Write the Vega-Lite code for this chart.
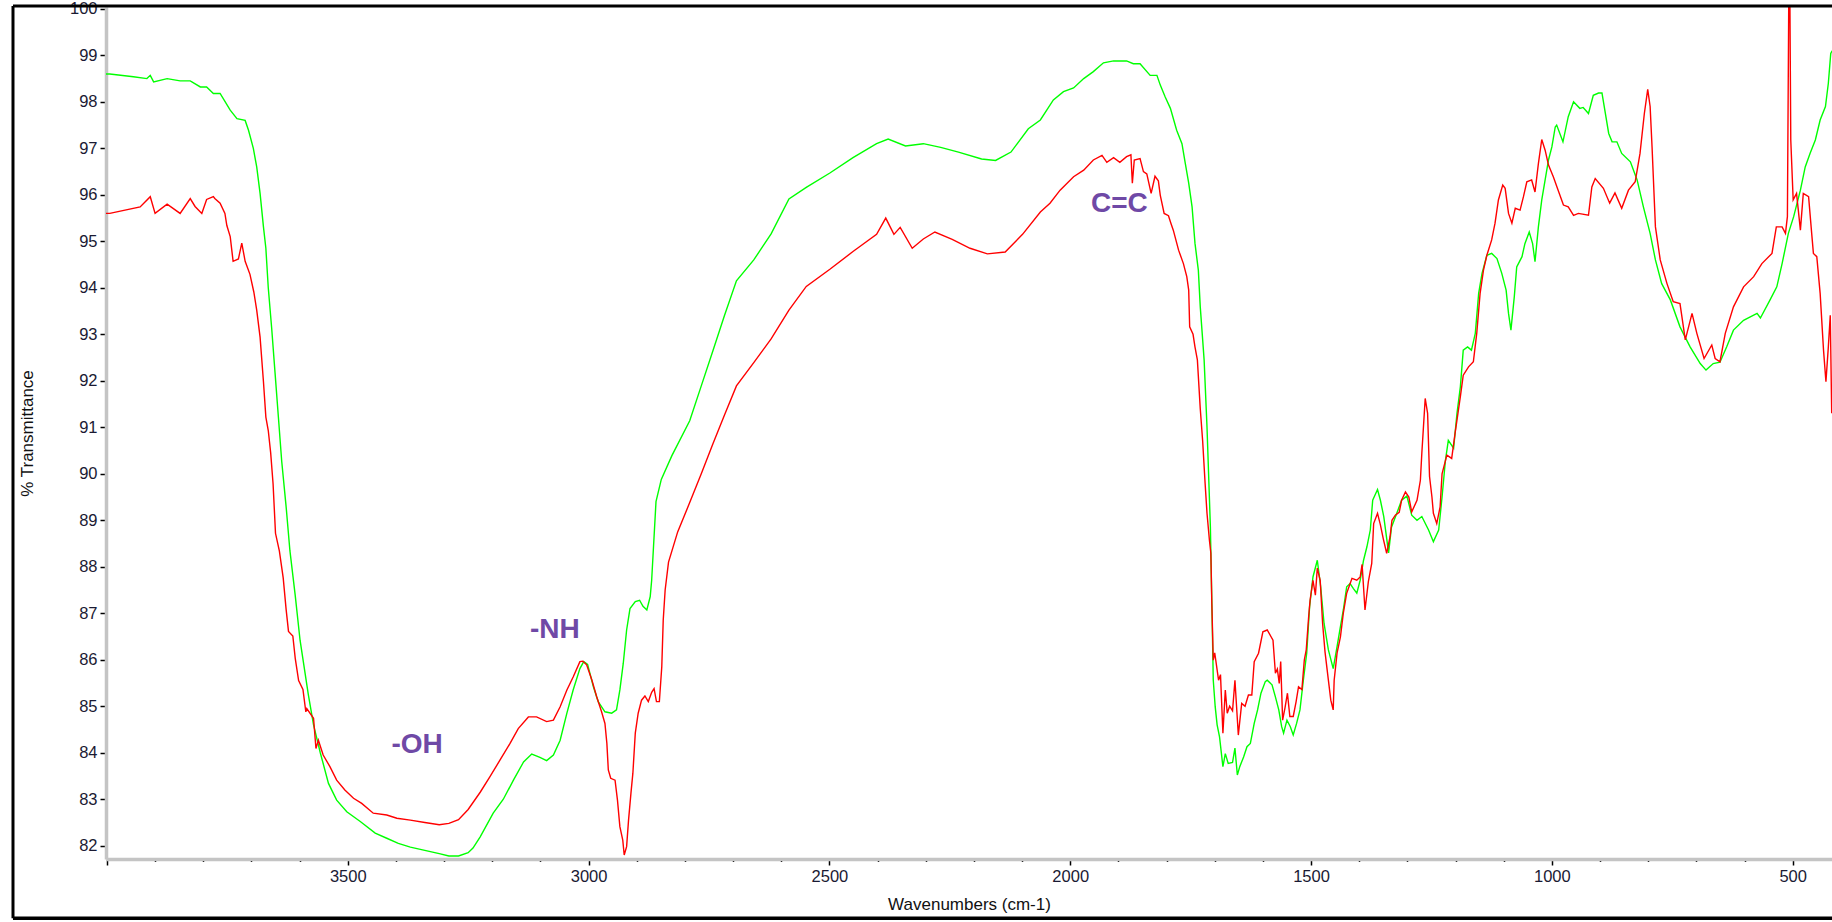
{
"$schema": "https://vega.github.io/schema/vega-lite/v6.json",
"width": 1726, "height": 852,
"autosize": {"type": "none"},
"padding": {"left": 106, "top": 7, "right": 0, "bottom": 63},
"background": "white",
"config": {"view": {"stroke": null}, "font": "Liberation Sans"},
"datasets": {
"green": [
{"w":4002,"t":98.6},{"w":3994,"t":98.6},{"w":3945,"t":98.54},{"w":3917,"t":98.5},{"w":3910,"t":98.57},{"w":3903,"t":98.43},{"w":3875,"t":98.5},{"w":3848,"t":98.45},{"w":3827,"t":98.45},{"w":3806,"t":98.32},{"w":3793,"t":98.32},{"w":3779,"t":98.18},{"w":3765,"t":98.18},{"w":3744,"t":97.82},{"w":3730,"t":97.64},{"w":3713,"t":97.6},{"w":3706,"t":97.39},{"w":3696,"t":97.0},{"w":3689,"t":96.6},{"w":3682,"t":96.03},{"w":3675,"t":95.31},{"w":3670,"t":94.85},{"w":3665,"t":94.0},{"w":3658,"t":93.14},{"w":3651,"t":92.18},{"w":3644,"t":91.22},{"w":3637,"t":90.26},{"w":3628,"t":89.3},{"w":3620,"t":88.34},{"w":3609,"t":87.38},{"w":3599,"t":86.42},{"w":3582,"t":85.26},{"w":3571,"t":84.6},{"w":3557,"t":84.0},{"w":3540,"t":83.34},{"w":3523,"t":82.98},{"w":3502,"t":82.73},{"w":3474,"t":82.52},{"w":3443,"t":82.27},{"w":3419,"t":82.16},{"w":3395,"t":82.05},{"w":3370,"t":81.97},{"w":3340,"t":81.9},{"w":3310,"t":81.83},{"w":3290,"t":81.78},{"w":3270,"t":81.78},{"w":3250,"t":81.85},{"w":3240,"t":81.95},{"w":3225,"t":82.19},{"w":3198,"t":82.7},{"w":3177,"t":83.0},{"w":3156,"t":83.41},{"w":3135,"t":83.8},{"w":3118,"t":83.97},{"w":3101,"t":83.9},{"w":3087,"t":83.83},{"w":3073,"t":83.95},{"w":3059,"t":84.27},{"w":3045,"t":84.85},{"w":3032,"t":85.35},{"w":3018,"t":85.81},{"w":3010,"t":85.96},{"w":3002,"t":85.9},{"w":2990,"t":85.42},{"w":2980,"t":85.1},{"w":2966,"t":84.88},{"w":2952,"t":84.85},{"w":2942,"t":84.92},{"w":2935,"t":85.35},{"w":2928,"t":85.92},{"w":2921,"t":86.64},{"w":2914,"t":87.1},{"w":2903,"t":87.25},{"w":2894,"t":87.28},{"w":2887,"t":87.15},{"w":2879,"t":87.07},{"w":2872,"t":87.36},{"w":2869,"t":87.71},{"w":2860,"t":89.4},{"w":2849,"t":89.88},{"w":2827,"t":90.39},{"w":2790,"t":91.14},{"w":2766,"t":91.89},{"w":2742,"t":92.64},{"w":2718,"t":93.4},{"w":2693,"t":94.15},{"w":2657,"t":94.6},{"w":2621,"t":95.16},{"w":2584,"t":95.91},{"w":2548,"t":96.16},{"w":2499,"t":96.47},{"w":2451,"t":96.8},{"w":2402,"t":97.1},{"w":2378,"t":97.2},{"w":2342,"t":97.05},{"w":2305,"t":97.1},{"w":2269,"t":97.02},{"w":2232,"t":96.92},{"w":2184,"t":96.77},{"w":2155,"t":96.74},{"w":2123,"t":96.92},{"w":2087,"t":97.42},{"w":2062,"t":97.61},{"w":2035,"t":98.04},{"w":2014,"t":98.22},{"w":1993,"t":98.3},{"w":1972,"t":98.5},{"w":1952,"t":98.65},{"w":1931,"t":98.84},{"w":1910,"t":98.88},{"w":1883,"t":98.88},{"w":1869,"t":98.82},{"w":1855,"t":98.82},{"w":1834,"t":98.57},{"w":1820,"t":98.57},{"w":1813,"t":98.36},{"w":1803,"t":98.11},{"w":1792,"t":97.86},{"w":1779,"t":97.39},{"w":1768,"t":97.1},{"w":1761,"t":96.67},{"w":1754,"t":96.25},{"w":1747,"t":95.74},{"w":1741,"t":94.96},{"w":1734,"t":94.38},{"w":1730,"t":93.59},{"w":1725,"t":92.88},{"w":1722,"t":92.45},{"w":1716,"t":91.0},{"w":1709,"t":88.86},{"w":1705,"t":86.71},{"w":1703,"t":85.56},{"w":1699,"t":84.99},{"w":1695,"t":84.6},{"w":1690,"t":84.34},{"w":1683,"t":83.7},{"w":1678,"t":83.98},{"w":1672,"t":83.77},{"w":1663,"t":83.79},{"w":1658,"t":84.1},{"w":1653,"t":83.52},{"w":1648,"t":83.7},{"w":1640,"t":83.91},{"w":1633,"t":84.13},{"w":1626,"t":84.2},{"w":1618,"t":84.63},{"w":1611,"t":84.92},{"w":1604,"t":85.28},{"w":1595,"t":85.53},{"w":1591,"t":85.56},{"w":1581,"t":85.46},{"w":1574,"t":85.2},{"w":1567,"t":84.92},{"w":1561,"t":84.56},{"w":1557,"t":84.42},{"w":1550,"t":84.7},{"w":1543,"t":84.56},{"w":1537,"t":84.38},{"w":1530,"t":84.63},{"w":1523,"t":84.92},{"w":1516,"t":85.56},{"w":1509,"t":86.14},{"w":1503,"t":87.14},{"w":1496,"t":87.78},{"w":1487,"t":88.14},{"w":1480,"t":87.57},{"w":1473,"t":86.78},{"w":1464,"t":86.21},{"w":1454,"t":85.81},{"w":1446,"t":86.28},{"w":1439,"t":86.71},{"w":1433,"t":87.07},{"w":1426,"t":87.57},{"w":1419,"t":87.64},{"w":1412,"t":87.53},{"w":1405,"t":87.43},{"w":1398,"t":87.71},{"w":1391,"t":88.14},{"w":1384,"t":88.43},{"w":1377,"t":88.79},{"w":1372,"t":89.43},{"w":1362,"t":89.66},{"w":1356,"t":89.43},{"w":1349,"t":89.08},{"w":1339,"t":88.3},{"w":1333,"t":88.85},{"w":1322,"t":89.15},{"w":1312,"t":89.43},{"w":1301,"t":89.52},{"w":1291,"t":89.11},{"w":1280,"t":89.0},{"w":1270,"t":89.08},{"w":1256,"t":88.79},{"w":1246,"t":88.54},{"w":1235,"t":88.79},{"w":1228,"t":89.5},{"w":1221,"t":90.29},{"w":1215,"t":90.72},{"w":1204,"t":90.55},{"w":1197,"t":91.3},{"w":1190,"t":91.87},{"w":1184,"t":92.66},{"w":1175,"t":92.73},{"w":1167,"t":92.66},{"w":1159,"t":93.02},{"w":1152,"t":93.88},{"w":1145,"t":94.31},{"w":1135,"t":94.7},{"w":1125,"t":94.74},{"w":1114,"t":94.63},{"w":1104,"t":94.31},{"w":1095,"t":93.95},{"w":1090,"t":93.45},{"w":1085,"t":93.09},{"w":1078,"t":93.81},{"w":1073,"t":94.45},{"w":1062,"t":94.67},{"w":1056,"t":94.95},{"w":1047,"t":95.2},{"w":1040,"t":94.95},{"w":1035,"t":94.56},{"w":1028,"t":95.31},{"w":1021,"t":95.89},{"w":1014,"t":96.32},{"w":1007,"t":96.75},{"w":1000,"t":97.03},{"w":993,"t":97.46},{"w":990,"t":97.5},{"w":977,"t":97.14},{"w":966,"t":97.68},{"w":955,"t":98.0},{"w":942,"t":97.86},{"w":935,"t":97.88},{"w":924,"t":97.75},{"w":914,"t":98.14},{"w":903,"t":98.19},{"w":896,"t":98.19},{"w":882,"t":97.32},{"w":875,"t":97.14},{"w":865,"t":97.14},{"w":855,"t":96.89},{"w":837,"t":96.71},{"w":823,"t":96.32},{"w":810,"t":95.74},{"w":796,"t":95.17},{"w":785,"t":94.6},{"w":772,"t":94.09},{"w":754,"t":93.74},{"w":734,"t":93.16},{"w":713,"t":92.73},{"w":692,"t":92.37},{"w":680,"t":92.23},{"w":665,"t":92.37},{"w":651,"t":92.4},{"w":637,"t":92.73},{"w":623,"t":93.09},{"w":602,"t":93.3},{"w":574,"t":93.45},{"w":567,"t":93.35},{"w":547,"t":93.74},{"w":533,"t":94.02},{"w":522,"t":94.52},{"w":509,"t":95.17},{"w":498,"t":95.53},{"w":484,"t":96.1},{"w":474,"t":96.6},{"w":464,"t":96.89},{"w":453,"t":97.18},{"w":443,"t":97.61},{"w":432,"t":97.9},{"w":426,"t":98.4},{"w":421,"t":99.04},{"w":418,"t":99.1}
],
"red": [
{"w":4002,"t":95.6},{"w":3994,"t":95.6},{"w":3931,"t":95.74},{"w":3910,"t":95.96},{"w":3900,"t":95.6},{"w":3875,"t":95.8},{"w":3848,"t":95.6},{"w":3827,"t":95.92},{"w":3817,"t":95.75},{"w":3803,"t":95.6},{"w":3793,"t":95.9},{"w":3779,"t":95.96},{"w":3776,"t":95.92},{"w":3765,"t":95.82},{"w":3755,"t":95.6},{"w":3751,"t":95.34},{"w":3744,"t":95.1},{"w":3738,"t":94.57},{"w":3727,"t":94.62},{"w":3720,"t":94.96},{"w":3713,"t":94.57},{"w":3703,"t":94.29},{"w":3695,"t":93.91},{"w":3689,"t":93.52},{"w":3682,"t":92.94},{"w":3675,"t":91.98},{"w":3670,"t":91.22},{"w":3665,"t":90.93},{"w":3660,"t":90.45},{"w":3655,"t":89.78},{"w":3650,"t":88.72},{"w":3642,"t":88.34},{"w":3634,"t":87.76},{"w":3628,"t":87.09},{"w":3623,"t":86.61},{"w":3614,"t":86.51},{"w":3609,"t":86.03},{"w":3602,"t":85.55},{"w":3593,"t":85.36},{"w":3587,"t":84.88},{"w":3585,"t":84.95},{"w":3571,"t":84.74},{"w":3566,"t":84.09},{"w":3561,"t":84.27},{"w":3551,"t":83.95},{"w":3537,"t":83.7},{"w":3523,"t":83.41},{"w":3506,"t":83.2},{"w":3488,"t":83.02},{"w":3471,"t":82.91},{"w":3447,"t":82.7},{"w":3419,"t":82.66},{"w":3398,"t":82.59},{"w":3370,"t":82.55},{"w":3340,"t":82.5},{"w":3310,"t":82.45},{"w":3290,"t":82.48},{"w":3270,"t":82.56},{"w":3250,"t":82.78},{"w":3225,"t":83.15},{"w":3205,"t":83.48},{"w":3184,"t":83.84},{"w":3163,"t":84.2},{"w":3146,"t":84.52},{"w":3125,"t":84.77},{"w":3108,"t":84.77},{"w":3087,"t":84.67},{"w":3073,"t":84.7},{"w":3059,"t":84.99},{"w":3045,"t":85.35},{"w":3032,"t":85.63},{"w":3018,"t":85.96},{"w":3012,"t":85.97},{"w":3004,"t":85.89},{"w":2993,"t":85.56},{"w":2983,"t":85.2},{"w":2973,"t":84.88},{"w":2966,"t":84.63},{"w":2962,"t":84.2},{"w":2959,"t":83.63},{"w":2954,"t":83.45},{"w":2945,"t":83.41},{"w":2940,"t":82.98},{"w":2935,"t":82.41},{"w":2929,"t":82.12},{"w":2926,"t":81.8},{"w":2921,"t":81.98},{"w":2917,"t":82.55},{"w":2912,"t":83.13},{"w":2908,"t":83.56},{"w":2903,"t":84.42},{"w":2897,"t":84.85},{"w":2890,"t":85.13},{"w":2883,"t":85.22},{"w":2876,"t":85.1},{"w":2869,"t":85.3},{"w":2864,"t":85.38},{"w":2859,"t":85.1},{"w":2853,"t":85.1},{"w":2848,"t":85.85},{"w":2845,"t":86.85},{"w":2841,"t":87.5},{"w":2834,"t":88.1},{"w":2815,"t":88.75},{"w":2790,"t":89.38},{"w":2766,"t":90.0},{"w":2742,"t":90.64},{"w":2718,"t":91.26},{"w":2693,"t":91.89},{"w":2657,"t":92.39},{"w":2621,"t":92.9},{"w":2584,"t":93.52},{"w":2548,"t":94.03},{"w":2499,"t":94.4},{"w":2451,"t":94.78},{"w":2402,"t":95.15},{"w":2383,"t":95.5},{"w":2366,"t":95.15},{"w":2353,"t":95.3},{"w":2328,"t":94.85},{"w":2305,"t":95.05},{"w":2281,"t":95.2},{"w":2245,"t":95.04},{"w":2208,"t":94.85},{"w":2172,"t":94.73},{"w":2135,"t":94.77},{"w":2099,"t":95.15},{"w":2062,"t":95.63},{"w":2042,"t":95.82},{"w":2021,"t":96.1},{"w":1993,"t":96.39},{"w":1972,"t":96.53},{"w":1952,"t":96.75},{"w":1934,"t":96.85},{"w":1924,"t":96.7},{"w":1910,"t":96.8},{"w":1897,"t":96.7},{"w":1883,"t":96.82},{"w":1874,"t":96.86},{"w":1871,"t":96.25},{"w":1867,"t":96.75},{"w":1855,"t":96.78},{"w":1848,"t":96.5},{"w":1841,"t":96.45},{"w":1832,"t":96.03},{"w":1824,"t":96.4},{"w":1817,"t":96.3},{"w":1813,"t":95.99},{"w":1805,"t":95.6},{"w":1796,"t":95.55},{"w":1791,"t":95.39},{"w":1786,"t":95.24},{"w":1775,"t":94.81},{"w":1765,"t":94.52},{"w":1758,"t":94.24},{"w":1754,"t":93.95},{"w":1752,"t":93.16},{"w":1745,"t":93.0},{"w":1741,"t":92.73},{"w":1736,"t":92.45},{"w":1730,"t":91.4},{"w":1725,"t":90.7},{"w":1720,"t":89.8},{"w":1716,"t":89.15},{"w":1711,"t":88.57},{"w":1708,"t":88.29},{"w":1706,"t":87.21},{"w":1703,"t":85.99},{"w":1700,"t":86.15},{"w":1692,"t":85.56},{"w":1688,"t":85.68},{"w":1683,"t":84.42},{"w":1678,"t":85.35},{"w":1674,"t":84.85},{"w":1669,"t":85.0},{"w":1663,"t":84.9},{"w":1658,"t":85.56},{"w":1651,"t":84.38},{"w":1644,"t":85.06},{"w":1637,"t":85.0},{"w":1630,"t":85.24},{"w":1623,"t":85.24},{"w":1618,"t":85.96},{"w":1609,"t":86.14},{"w":1600,"t":86.6},{"w":1591,"t":86.64},{"w":1579,"t":86.42},{"w":1574,"t":85.71},{"w":1570,"t":85.8},{"w":1566,"t":85.49},{"w":1563,"t":85.96},{"w":1559,"t":84.7},{"w":1554,"t":84.97},{"w":1549,"t":85.28},{"w":1544,"t":84.78},{"w":1537,"t":84.78},{"w":1531,"t":85.1},{"w":1526,"t":85.42},{"w":1519,"t":85.36},{"w":1514,"t":85.99},{"w":1510,"t":86.21},{"w":1505,"t":86.92},{"w":1502,"t":87.28},{"w":1496,"t":87.71},{"w":1491,"t":87.39},{"w":1487,"t":87.97},{"w":1481,"t":87.71},{"w":1476,"t":86.78},{"w":1471,"t":86.17},{"w":1464,"t":85.56},{"w":1459,"t":85.13},{"w":1454,"t":84.92},{"w":1452,"t":85.56},{"w":1446,"t":86.14},{"w":1439,"t":86.49},{"w":1433,"t":87.0},{"w":1426,"t":87.43},{"w":1415,"t":87.75},{"w":1405,"t":87.71},{"w":1398,"t":87.78},{"w":1394,"t":88.05},{"w":1388,"t":87.07},{"w":1381,"t":87.68},{"w":1374,"t":88.07},{"w":1370,"t":88.93},{"w":1362,"t":89.15},{"w":1356,"t":88.9},{"w":1350,"t":88.6},{"w":1343,"t":88.29},{"w":1336,"t":88.64},{"w":1332,"t":89.0},{"w":1325,"t":89.11},{"w":1317,"t":89.17},{"w":1312,"t":89.43},{"w":1304,"t":89.61},{"w":1297,"t":89.5},{"w":1291,"t":89.18},{"w":1280,"t":89.43},{"w":1273,"t":89.86},{"w":1270,"t":90.44},{"w":1267,"t":90.94},{"w":1263,"t":91.62},{"w":1258,"t":91.3},{"w":1254,"t":89.94},{"w":1249,"t":89.5},{"w":1246,"t":89.15},{"w":1239,"t":88.93},{"w":1232,"t":89.29},{"w":1228,"t":90.0},{"w":1218,"t":90.4},{"w":1208,"t":90.33},{"w":1201,"t":90.87},{"w":1190,"t":91.66},{"w":1184,"t":92.12},{"w":1173,"t":92.3},{"w":1163,"t":92.41},{"w":1156,"t":93.02},{"w":1149,"t":93.88},{"w":1142,"t":94.38},{"w":1135,"t":94.7},{"w":1125,"t":95.03},{"w":1118,"t":95.39},{"w":1111,"t":95.89},{"w":1102,"t":96.21},{"w":1097,"t":96.14},{"w":1090,"t":95.6},{"w":1083,"t":95.39},{"w":1076,"t":95.71},{"w":1066,"t":95.67},{"w":1059,"t":95.96},{"w":1052,"t":96.28},{"w":1042,"t":96.32},{"w":1035,"t":96.06},{"w":1028,"t":96.67},{"w":1021,"t":97.19},{"w":1014,"t":96.96},{"w":1007,"t":96.64},{"w":997,"t":96.39},{"w":987,"t":96.1},{"w":976,"t":95.78},{"w":966,"t":95.74},{"w":955,"t":95.56},{"w":945,"t":95.6},{"w":924,"t":95.56},{"w":917,"t":96.17},{"w":910,"t":96.35},{"w":893,"t":96.14},{"w":880,"t":95.82},{"w":869,"t":96.04},{"w":855,"t":95.71},{"w":841,"t":96.1},{"w":827,"t":96.28},{"w":817,"t":96.89},{"w":808,"t":97.75},{"w":801,"t":98.27},{"w":796,"t":97.9},{"w":792,"t":97.03},{"w":785,"t":95.31},{"w":775,"t":94.6},{"w":761,"t":94.09},{"w":748,"t":93.7},{"w":734,"t":93.66},{"w":723,"t":92.88},{"w":709,"t":93.45},{"w":699,"t":93.02},{"w":684,"t":92.48},{"w":668,"t":92.77},{"w":661,"t":92.48},{"w":651,"t":92.41},{"w":640,"t":93.02},{"w":623,"t":93.59},{"w":602,"t":94.02},{"w":581,"t":94.24},{"w":564,"t":94.52},{"w":543,"t":94.74},{"w":534,"t":95.31},{"w":522,"t":95.31},{"w":515,"t":95.17},{"w":511,"t":95.53},{"w":508,"t":100.5},{"w":506,"t":100.5},{"w":504,"t":97.18},{"w":499,"t":95.89},{"w":492,"t":96.03},{"w":484,"t":95.24},{"w":478,"t":96.03},{"w":467,"t":95.96},{"w":460,"t":95.1},{"w":457,"t":94.74},{"w":450,"t":94.67},{"w":443,"t":93.88},{"w":436,"t":92.66},{"w":431,"t":91.98},{"w":426,"t":92.73},{"w":422,"t":93.41},{"w":419,"t":91.3}
],
"notes": [
{"label":"-OH","w":3356,"t":84.16},
{"label":"-NH","w":3070,"t":86.64},
{"label":"C=C","w":1898,"t":95.81}
]
},
"layer": [
{
"data": {"name": "green"},
"mark": {"type": "line", "color": "#00ff00", "strokeWidth": 1.4, "clip": true},
"encoding": {
"x": {"field": "w", "type": "quantitative", "title": "Wavenumbers (cm-1)",
"scale": {"domain": [418.4, 4001.9], "reverse": true, "nice": false, "zero": false},
"axis": {
"values": [4000,3900,3800,3700,3600,3500,3400,3300,3200,3100,3000,2900,2800,2700,2600,2500,2400,2300,2200,2100,2000,1900,1800,1700,1600,1500,1400,1300,1200,1100,1000,900,800,700,600,500],
"format": "d",
"labelExpr": "(datum.value % 500 === 0 && datum.value < 4000) ? datum.label : ''",
"grid": false,
"domainColor": "#c4c4c4", "domainWidth": 3.5,
"tickColor": "#000000", "tickWidth": 1.5,
"tickSize": {"condition": {"test": "datum.value % 500 === 0", "value": 6}, "value": 2.5},
"labelFontSize": 16.5, "labelColor": "#1a1a33", "labelPadding": 3, "labelOverlap": false, "labelFlush": false,
"titleFontSize": 17, "titleFontWeight": "normal", "titleColor": "#111111", "titleY": 45, "titleBaseline": "middle"
}},
"y": {"field": "t", "type": "quantitative", "title": "% Transmittance",
"scale": {"domain": [81.714, 100.04], "nice": false, "zero": false},
"axis": {
"values": [82,82.25,82.5,82.75,83,83.25,83.5,83.75,84,84.25,84.5,84.75,85,85.25,85.5,85.75,86,86.25,86.5,86.75,87,87.25,87.5,87.75,88,88.25,88.5,88.75,89,89.25,89.5,89.75,90,90.25,90.5,90.75,91,91.25,91.5,91.75,92,92.25,92.5,92.75,93,93.25,93.5,93.75,94,94.25,94.5,94.75,95,95.25,95.5,95.75,96,96.25,96.5,96.75,97,97.25,97.5,97.75,98,98.25,98.5,98.75,99,99.25,99.5,99.75,100],
"format": "d",
"labelExpr": "(datum.value % 1 === 0) ? datum.label : ''",
"grid": false,
"domainColor": "#c4c4c4", "domainWidth": 3.5,
"tickColor": "#000000", "tickWidth": 1.5,
"tickSize": {"condition": {"test": "datum.value % 1 === 0", "value": 6}, "value": 2.5},
"labelFontSize": 16.5, "labelColor": "#1a1a33", "labelPadding": 3, "labelOverlap": false, "labelFlush": false,
"titleFontSize": 17, "titleFontWeight": "normal", "titleColor": "#111111", "titlePadding": 33
}}
}
},
{
"data": {"name": "red"},
"mark": {"type": "line", "color": "#ff0000", "strokeWidth": 1.4, "clip": true},
"encoding": {
"x": {"field": "w", "type": "quantitative"},
"y": {"field": "t", "type": "quantitative"}
}
},
{
"data": {"name": "notes"},
"mark": {"type": "text", "fontSize": 28, "fontWeight": "bold", "color": "#6f49a6", "align": "center", "baseline": "middle", "font": "Liberation Sans"},
"encoding": {
"x": {"field": "w", "type": "quantitative"},
"y": {"field": "t", "type": "quantitative"},
"text": {"field": "label"}
}
},
{
"data": {"values": [{}]},
"mark": {"type": "rule", "color": "#000000", "strokeWidth": 3, "clip": false},
"encoding": {
"x": {"datum": 4195, "type": "quantitative"},
"y": {"datum": 80.44, "type": "quantitative"},
"y2": {"datum": 100.06}
}
},
{
"data": {"values": [{}]},
"mark": {"type": "rule", "color": "#000000", "strokeWidth": 3.5, "clip": false},
"encoding": {
"x": {"datum": 4195, "type": "quantitative"},
"x2": {"datum": 418.4},
"y": {"datum": 80.44, "type": "quantitative"}
}
},
{
"data": {"values": [{}]},
"mark": {"type": "rule", "color": "#000000", "strokeWidth": 3, "clip": false},
"encoding": {
"x": {"datum": 4195, "type": "quantitative"},
"x2": {"datum": 418.4},
"y": {"datum": 100.06, "type": "quantitative"}
}
}
]
}
